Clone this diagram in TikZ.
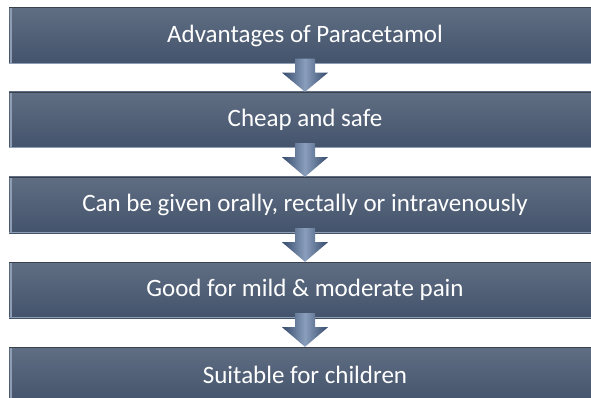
\documentclass[tikz,border=0pt]{standalone}
\usepackage{fontspec}
\setmainfont{Carlito}
\usetikzlibrary{calc}
\definecolor{boxtop}{HTML}{5F6E82}
\definecolor{boxbot}{HTML}{43536C}
\definecolor{bevel}{HTML}{8E9DB2}
\definecolor{rimdark}{HTML}{3A414D}
\definecolor{arrowdark}{HTML}{364A6C}
\definecolor{arrowlight}{HTML}{8A9EBC}
\newcommand\flowarrow[2]{%
  \path[arrowfill]
    ($(#1.south)+(-10,-5)$) -- ($(#1.south)+(10,-5)$) --
    ($(#1.south)+(10,9)$) -- ($(#1.south)+(23,9)$) --
    (#2.north) --
    ($(#1.south)+(-23,9)$) -- ($(#1.south)+(-10,9)$) -- cycle;}
\begin{document}
\begin{tikzpicture}[x=1pt,y=-1pt,
  stage/.style={minimum width=592pt, minimum height=56pt, inner sep=0pt,
    top color=boxtop, bottom color=boxbot, text=white,
    font=\fontsize{25}{30}\selectfont},
  arrowfill/.style={left color=arrowdark, right color=arrowdark,
    middle color=arrowlight}]
\useasboundingbox (0,0) rectangle (591,398);
\fill[white] (0,0) rectangle (591,398);

\node[stage] (s1) at (305,35.5) {Advantages of Paracetamol};
\node[stage] (s2) at (305,120) {Cheap and safe};
\node[stage] (s3) at (305,205) {Can be given orally, rectally or intravenously};
\node[stage] (s4) at (305,290) {Good for mild \& moderate pain};
\node[stage] (s5) at (305,375) {Suitable for children};

% bevelled rims of each bar
\foreach \s in {s1,s2,s3,s4,s5}{
  \draw[bevel, line width=2pt] ([xshift=2pt]\s.north west) -- ([xshift=2pt]\s.south west);
  \draw[rimdark, line width=1pt] ([yshift=-0.5pt]\s.north west) -- ([yshift=-0.5pt]\s.north east);
  \draw[bevel, line width=0.8pt] ([yshift=0.4pt]\s.south west) -- ([yshift=0.4pt]\s.south east);
}

\flowarrow{s1}{s2}
\flowarrow{s2}{s3}
\flowarrow{s3}{s4}
\flowarrow{s4}{s5}
\end{tikzpicture}
\end{document}
